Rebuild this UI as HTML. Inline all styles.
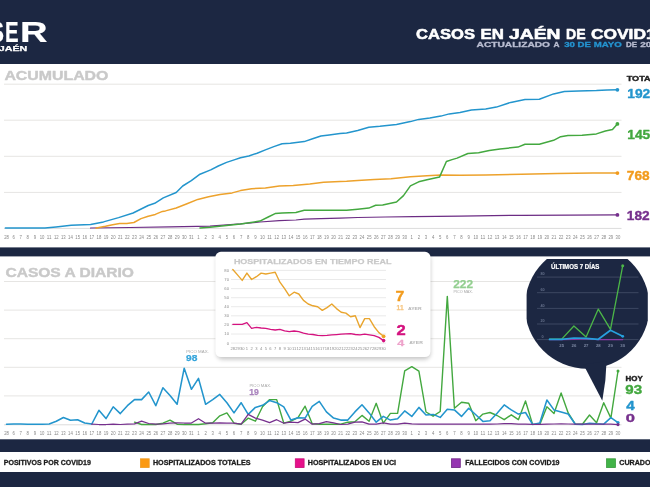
<!DOCTYPE html>
<html lang="es">
<head>
<meta charset="utf-8">
<title>Casos en Jaén de COVID19</title>
<style>
html,body{margin:0;padding:0;background:#ffffff;}
body{width:650px;height:487px;overflow:hidden;}
svg{display:block;font-family:"Liberation Sans",sans-serif;}
text{white-space:pre;}
</style>
</head>
<body>
<svg width="650" height="487" viewBox="0 0 650 487">
<rect x="0" y="0" width="650" height="487" fill="#ffffff"/>
<rect x="0" y="0" width="650" height="64" fill="#1c2742"/>
<rect x="0" y="247.4" width="650" height="9.0" fill="#1c2742"/>
<rect x="0" y="439.3" width="650" height="12.7" fill="#1c2742"/>
<rect x="0" y="472" width="650" height="15" fill="#1c2742"/>
<text x="-10.5" y="42.3" font-size="29.5" fill="#fff" font-weight="700" stroke="#fff" stroke-width="0.2" stroke-linejoin="round" textLength="14.5" lengthAdjust="spacingAndGlyphs">S</text>
<text x="5.0" y="42.3" font-size="29.5" fill="#fff" font-weight="700" stroke="#fff" stroke-width="0.2" stroke-linejoin="round" textLength="13.6" lengthAdjust="spacingAndGlyphs">E</text>
<text x="20.0" y="42.3" font-size="29.5" fill="#fff" font-weight="700" stroke="#fff" stroke-width="0.2" stroke-linejoin="round" textLength="27.6" lengthAdjust="spacingAndGlyphs">R</text>
<text x="-1.2" y="51.3" font-size="6.8" fill="#fff" font-weight="700" stroke="#fff" stroke-width="0.25" stroke-linejoin="round" textLength="28.5" lengthAdjust="spacingAndGlyphs">JAÉN</text>
<text x="416.1" y="38.5" font-size="14.8" fill="#fff" font-weight="700" stroke="#fff" stroke-width="0.55" stroke-linejoin="round" textLength="58.9" lengthAdjust="spacingAndGlyphs">CASOS</text>
<text x="480.6" y="38.5" font-size="14.8" fill="#fff" font-weight="700" stroke="#fff" stroke-width="0.55" stroke-linejoin="round" textLength="23.4" lengthAdjust="spacingAndGlyphs">EN</text>
<text x="509.0" y="38.5" font-size="14.8" fill="#fff" font-weight="700" stroke="#fff" stroke-width="0.55" stroke-linejoin="round" textLength="51.5" lengthAdjust="spacingAndGlyphs">JAÉN</text>
<text x="566.0" y="38.5" font-size="14.8" fill="#fff" font-weight="700" stroke="#fff" stroke-width="0.55" stroke-linejoin="round" textLength="19.6" lengthAdjust="spacingAndGlyphs">DE</text>
<text x="590.9" y="38.5" font-size="14.8" fill="#fff" font-weight="700" stroke="#fff" stroke-width="0.55" stroke-linejoin="round" textLength="74.5" lengthAdjust="spacingAndGlyphs">COVID19</text>
<text x="476.6" y="47.2" font-size="7.3" fill="#b9bdd1" font-weight="700" stroke="#b9bdd1" stroke-width="0.3" stroke-linejoin="round" textLength="73.4" lengthAdjust="spacingAndGlyphs">ACTUALIZADO</text>
<text x="553.6" y="47.2" font-size="7.3" fill="#b9bdd1" font-weight="700" stroke="#b9bdd1" stroke-width="0.3" stroke-linejoin="round" textLength="6.0" lengthAdjust="spacingAndGlyphs">A</text>
<text x="564.2" y="47.2" font-size="7.3" fill="#2493cf" font-weight="700" stroke="#2493cf" stroke-width="0.3" stroke-linejoin="round" textLength="57.5" lengthAdjust="spacingAndGlyphs">30 DE MAYO</text>
<text x="626.0" y="47.2" font-size="7.3" fill="#b9bdd1" font-weight="700" stroke="#b9bdd1" stroke-width="0.3" stroke-linejoin="round" textLength="11.0" lengthAdjust="spacingAndGlyphs">DE</text>
<text x="640.2" y="47.2" font-size="7.3" fill="#b9bdd1" font-weight="700" stroke="#b9bdd1" stroke-width="0.3" stroke-linejoin="round" textLength="22.5" lengthAdjust="spacingAndGlyphs">2020</text>
<text x="4.4" y="80.2" font-size="12.5" fill="#c9c9c9" font-weight="700" stroke="#c9c9c9" stroke-width="0.4" stroke-linejoin="round" textLength="104" lengthAdjust="spacingAndGlyphs">ACUMULADO</text>
<text x="5.4" y="276.5" font-size="12.5" fill="#c9c9c9" font-weight="700" stroke="#c9c9c9" stroke-width="0.4" stroke-linejoin="round" textLength="128.6" lengthAdjust="spacingAndGlyphs">CASOS A DIARIO</text>
<line x1="4" y1="84.2" x2="621.5" y2="84.2" stroke="#e6e5e3" stroke-width="1"/>
<line x1="4" y1="120.2" x2="621.5" y2="120.2" stroke="#e6e5e3" stroke-width="1"/>
<line x1="4" y1="156.3" x2="621.5" y2="156.3" stroke="#e6e5e3" stroke-width="1"/>
<line x1="4" y1="192.4" x2="621.5" y2="192.4" stroke="#e6e5e3" stroke-width="1"/>
<line x1="4" y1="228.4" x2="621.5" y2="228.4" stroke="#dcdcdc" stroke-width="1"/>
<text x="4.2" y="238.8" font-size="5.8" fill="#878787" font-weight="400" textLength="4.7" lengthAdjust="spacingAndGlyphs">28</text>
<text x="12.4" y="238.8" font-size="5.8" fill="#878787" font-weight="400" textLength="2.4" lengthAdjust="spacingAndGlyphs">6</text>
<text x="19.5" y="238.8" font-size="5.8" fill="#878787" font-weight="400" textLength="2.4" lengthAdjust="spacingAndGlyphs">7</text>
<text x="26.6" y="238.8" font-size="5.8" fill="#878787" font-weight="400" textLength="2.4" lengthAdjust="spacingAndGlyphs">8</text>
<text x="33.7" y="238.8" font-size="5.8" fill="#878787" font-weight="400" textLength="2.4" lengthAdjust="spacingAndGlyphs">9</text>
<text x="39.7" y="238.8" font-size="5.8" fill="#878787" font-weight="400" textLength="4.7" lengthAdjust="spacingAndGlyphs">10</text>
<text x="46.8" y="238.8" font-size="5.8" fill="#878787" font-weight="400" textLength="4.7" lengthAdjust="spacingAndGlyphs">11</text>
<text x="53.9" y="238.8" font-size="5.8" fill="#878787" font-weight="400" textLength="4.7" lengthAdjust="spacingAndGlyphs">12</text>
<text x="61.0" y="238.8" font-size="5.8" fill="#878787" font-weight="400" textLength="4.7" lengthAdjust="spacingAndGlyphs">13</text>
<text x="68.1" y="238.8" font-size="5.8" fill="#878787" font-weight="400" textLength="4.7" lengthAdjust="spacingAndGlyphs">14</text>
<text x="75.3" y="238.8" font-size="5.8" fill="#878787" font-weight="400" textLength="4.7" lengthAdjust="spacingAndGlyphs">15</text>
<text x="82.4" y="238.8" font-size="5.8" fill="#878787" font-weight="400" textLength="4.7" lengthAdjust="spacingAndGlyphs">16</text>
<text x="89.5" y="238.8" font-size="5.8" fill="#878787" font-weight="400" textLength="4.7" lengthAdjust="spacingAndGlyphs">17</text>
<text x="96.6" y="238.8" font-size="5.8" fill="#878787" font-weight="400" textLength="4.7" lengthAdjust="spacingAndGlyphs">18</text>
<text x="103.7" y="238.8" font-size="5.8" fill="#878787" font-weight="400" textLength="4.7" lengthAdjust="spacingAndGlyphs">19</text>
<text x="110.8" y="238.8" font-size="5.8" fill="#878787" font-weight="400" textLength="4.7" lengthAdjust="spacingAndGlyphs">20</text>
<text x="117.9" y="238.8" font-size="5.8" fill="#878787" font-weight="400" textLength="4.7" lengthAdjust="spacingAndGlyphs">21</text>
<text x="125.0" y="238.8" font-size="5.8" fill="#878787" font-weight="400" textLength="4.7" lengthAdjust="spacingAndGlyphs">22</text>
<text x="132.1" y="238.8" font-size="5.8" fill="#878787" font-weight="400" textLength="4.7" lengthAdjust="spacingAndGlyphs">23</text>
<text x="139.2" y="238.8" font-size="5.8" fill="#878787" font-weight="400" textLength="4.7" lengthAdjust="spacingAndGlyphs">24</text>
<text x="146.4" y="238.8" font-size="5.8" fill="#878787" font-weight="400" textLength="4.7" lengthAdjust="spacingAndGlyphs">25</text>
<text x="153.5" y="238.8" font-size="5.8" fill="#878787" font-weight="400" textLength="4.7" lengthAdjust="spacingAndGlyphs">26</text>
<text x="160.6" y="238.8" font-size="5.8" fill="#878787" font-weight="400" textLength="4.7" lengthAdjust="spacingAndGlyphs">27</text>
<text x="167.7" y="238.8" font-size="5.8" fill="#878787" font-weight="400" textLength="4.7" lengthAdjust="spacingAndGlyphs">28</text>
<text x="174.8" y="238.8" font-size="5.8" fill="#878787" font-weight="400" textLength="4.7" lengthAdjust="spacingAndGlyphs">29</text>
<text x="181.9" y="238.8" font-size="5.8" fill="#878787" font-weight="400" textLength="4.7" lengthAdjust="spacingAndGlyphs">30</text>
<text x="189.0" y="238.8" font-size="5.8" fill="#878787" font-weight="400" textLength="4.7" lengthAdjust="spacingAndGlyphs">31</text>
<text x="197.3" y="238.8" font-size="5.8" fill="#878787" font-weight="400" textLength="2.4" lengthAdjust="spacingAndGlyphs">1</text>
<text x="204.4" y="238.8" font-size="5.8" fill="#878787" font-weight="400" textLength="2.4" lengthAdjust="spacingAndGlyphs">2</text>
<text x="211.5" y="238.8" font-size="5.8" fill="#878787" font-weight="400" textLength="2.4" lengthAdjust="spacingAndGlyphs">3</text>
<text x="218.6" y="238.8" font-size="5.8" fill="#878787" font-weight="400" textLength="2.4" lengthAdjust="spacingAndGlyphs">4</text>
<text x="225.7" y="238.8" font-size="5.8" fill="#878787" font-weight="400" textLength="2.4" lengthAdjust="spacingAndGlyphs">5</text>
<text x="232.8" y="238.8" font-size="5.8" fill="#878787" font-weight="400" textLength="2.4" lengthAdjust="spacingAndGlyphs">6</text>
<text x="239.9" y="238.8" font-size="5.8" fill="#878787" font-weight="400" textLength="2.4" lengthAdjust="spacingAndGlyphs">7</text>
<text x="247.0" y="238.8" font-size="5.8" fill="#878787" font-weight="400" textLength="2.4" lengthAdjust="spacingAndGlyphs">8</text>
<text x="254.2" y="238.8" font-size="5.8" fill="#878787" font-weight="400" textLength="2.4" lengthAdjust="spacingAndGlyphs">9</text>
<text x="260.1" y="238.8" font-size="5.8" fill="#878787" font-weight="400" textLength="4.7" lengthAdjust="spacingAndGlyphs">10</text>
<text x="267.2" y="238.8" font-size="5.8" fill="#878787" font-weight="400" textLength="4.7" lengthAdjust="spacingAndGlyphs">11</text>
<text x="274.3" y="238.8" font-size="5.8" fill="#878787" font-weight="400" textLength="4.7" lengthAdjust="spacingAndGlyphs">12</text>
<text x="281.4" y="238.8" font-size="5.8" fill="#878787" font-weight="400" textLength="4.7" lengthAdjust="spacingAndGlyphs">13</text>
<text x="288.6" y="238.8" font-size="5.8" fill="#878787" font-weight="400" textLength="4.7" lengthAdjust="spacingAndGlyphs">14</text>
<text x="295.7" y="238.8" font-size="5.8" fill="#878787" font-weight="400" textLength="4.7" lengthAdjust="spacingAndGlyphs">15</text>
<text x="302.8" y="238.8" font-size="5.8" fill="#878787" font-weight="400" textLength="4.7" lengthAdjust="spacingAndGlyphs">16</text>
<text x="309.9" y="238.8" font-size="5.8" fill="#878787" font-weight="400" textLength="4.7" lengthAdjust="spacingAndGlyphs">17</text>
<text x="317.0" y="238.8" font-size="5.8" fill="#878787" font-weight="400" textLength="4.7" lengthAdjust="spacingAndGlyphs">18</text>
<text x="324.1" y="238.8" font-size="5.8" fill="#878787" font-weight="400" textLength="4.7" lengthAdjust="spacingAndGlyphs">19</text>
<text x="331.2" y="238.8" font-size="5.8" fill="#878787" font-weight="400" textLength="4.7" lengthAdjust="spacingAndGlyphs">20</text>
<text x="338.3" y="238.8" font-size="5.8" fill="#878787" font-weight="400" textLength="4.7" lengthAdjust="spacingAndGlyphs">21</text>
<text x="345.4" y="238.8" font-size="5.8" fill="#878787" font-weight="400" textLength="4.7" lengthAdjust="spacingAndGlyphs">22</text>
<text x="352.5" y="238.8" font-size="5.8" fill="#878787" font-weight="400" textLength="4.7" lengthAdjust="spacingAndGlyphs">23</text>
<text x="359.6" y="238.8" font-size="5.8" fill="#878787" font-weight="400" textLength="4.7" lengthAdjust="spacingAndGlyphs">24</text>
<text x="366.8" y="238.8" font-size="5.8" fill="#878787" font-weight="400" textLength="4.7" lengthAdjust="spacingAndGlyphs">25</text>
<text x="373.9" y="238.8" font-size="5.8" fill="#878787" font-weight="400" textLength="4.7" lengthAdjust="spacingAndGlyphs">26</text>
<text x="381.0" y="238.8" font-size="5.8" fill="#878787" font-weight="400" textLength="4.7" lengthAdjust="spacingAndGlyphs">27</text>
<text x="388.1" y="238.8" font-size="5.8" fill="#878787" font-weight="400" textLength="4.7" lengthAdjust="spacingAndGlyphs">28</text>
<text x="395.2" y="238.8" font-size="5.8" fill="#878787" font-weight="400" textLength="4.7" lengthAdjust="spacingAndGlyphs">29</text>
<text x="402.3" y="238.8" font-size="5.8" fill="#878787" font-weight="400" textLength="4.7" lengthAdjust="spacingAndGlyphs">30</text>
<text x="410.6" y="238.8" font-size="5.8" fill="#878787" font-weight="400" textLength="2.4" lengthAdjust="spacingAndGlyphs">1</text>
<text x="417.7" y="238.8" font-size="5.8" fill="#878787" font-weight="400" textLength="2.4" lengthAdjust="spacingAndGlyphs">2</text>
<text x="424.8" y="238.8" font-size="5.8" fill="#878787" font-weight="400" textLength="2.4" lengthAdjust="spacingAndGlyphs">3</text>
<text x="431.9" y="238.8" font-size="5.8" fill="#878787" font-weight="400" textLength="2.4" lengthAdjust="spacingAndGlyphs">4</text>
<text x="439.0" y="238.8" font-size="5.8" fill="#878787" font-weight="400" textLength="2.4" lengthAdjust="spacingAndGlyphs">5</text>
<text x="446.1" y="238.8" font-size="5.8" fill="#878787" font-weight="400" textLength="2.4" lengthAdjust="spacingAndGlyphs">6</text>
<text x="453.2" y="238.8" font-size="5.8" fill="#878787" font-weight="400" textLength="2.4" lengthAdjust="spacingAndGlyphs">7</text>
<text x="460.3" y="238.8" font-size="5.8" fill="#878787" font-weight="400" textLength="2.4" lengthAdjust="spacingAndGlyphs">8</text>
<text x="467.5" y="238.8" font-size="5.8" fill="#878787" font-weight="400" textLength="2.4" lengthAdjust="spacingAndGlyphs">9</text>
<text x="473.4" y="238.8" font-size="5.8" fill="#878787" font-weight="400" textLength="4.7" lengthAdjust="spacingAndGlyphs">10</text>
<text x="480.5" y="238.8" font-size="5.8" fill="#878787" font-weight="400" textLength="4.7" lengthAdjust="spacingAndGlyphs">11</text>
<text x="487.6" y="238.8" font-size="5.8" fill="#878787" font-weight="400" textLength="4.7" lengthAdjust="spacingAndGlyphs">12</text>
<text x="494.7" y="238.8" font-size="5.8" fill="#878787" font-weight="400" textLength="4.7" lengthAdjust="spacingAndGlyphs">13</text>
<text x="501.9" y="238.8" font-size="5.8" fill="#878787" font-weight="400" textLength="4.7" lengthAdjust="spacingAndGlyphs">14</text>
<text x="509.0" y="238.8" font-size="5.8" fill="#878787" font-weight="400" textLength="4.7" lengthAdjust="spacingAndGlyphs">15</text>
<text x="516.1" y="238.8" font-size="5.8" fill="#878787" font-weight="400" textLength="4.7" lengthAdjust="spacingAndGlyphs">16</text>
<text x="523.2" y="238.8" font-size="5.8" fill="#878787" font-weight="400" textLength="4.7" lengthAdjust="spacingAndGlyphs">17</text>
<text x="530.3" y="238.8" font-size="5.8" fill="#878787" font-weight="400" textLength="4.7" lengthAdjust="spacingAndGlyphs">18</text>
<text x="537.4" y="238.8" font-size="5.8" fill="#878787" font-weight="400" textLength="4.7" lengthAdjust="spacingAndGlyphs">19</text>
<text x="544.5" y="238.8" font-size="5.8" fill="#878787" font-weight="400" textLength="4.7" lengthAdjust="spacingAndGlyphs">20</text>
<text x="551.6" y="238.8" font-size="5.8" fill="#878787" font-weight="400" textLength="4.7" lengthAdjust="spacingAndGlyphs">21</text>
<text x="558.7" y="238.8" font-size="5.8" fill="#878787" font-weight="400" textLength="4.7" lengthAdjust="spacingAndGlyphs">22</text>
<text x="565.8" y="238.8" font-size="5.8" fill="#878787" font-weight="400" textLength="4.7" lengthAdjust="spacingAndGlyphs">23</text>
<text x="573.0" y="238.8" font-size="5.8" fill="#878787" font-weight="400" textLength="4.7" lengthAdjust="spacingAndGlyphs">24</text>
<text x="580.1" y="238.8" font-size="5.8" fill="#878787" font-weight="400" textLength="4.7" lengthAdjust="spacingAndGlyphs">25</text>
<text x="587.2" y="238.8" font-size="5.8" fill="#878787" font-weight="400" textLength="4.7" lengthAdjust="spacingAndGlyphs">26</text>
<text x="594.3" y="238.8" font-size="5.8" fill="#878787" font-weight="400" textLength="4.7" lengthAdjust="spacingAndGlyphs">27</text>
<text x="601.4" y="238.8" font-size="5.8" fill="#878787" font-weight="400" textLength="4.7" lengthAdjust="spacingAndGlyphs">28</text>
<text x="608.5" y="238.8" font-size="5.8" fill="#878787" font-weight="400" textLength="4.7" lengthAdjust="spacingAndGlyphs">29</text>
<text x="615.6" y="238.8" font-size="5.8" fill="#878787" font-weight="400" textLength="4.7" lengthAdjust="spacingAndGlyphs">30</text>
<polyline points="90.5,228.0 130.0,227.5 170.0,226.8 210.0,226.1 240.5,223.9 259.9,222.0 279.3,220.6 295.9,220.0 304.2,219.2 320.9,218.6 340.0,218.1 357.7,217.5 385.4,217.0 413.2,216.7 460.0,216.2 521.4,215.3 617.4,214.9" fill="none" stroke="#6c2c84" stroke-width="1.25" stroke-linejoin="round" stroke-linecap="round"/>
<polyline points="96.0,228.2 99.0,227.6 105.5,226.3 112.6,224.7 119.7,223.6 126.8,223.4 133.9,222.5 141.0,218.6 148.2,216.2 155.3,214.4 162.4,211.4 165.5,210.9 176.2,208.0 187.0,203.7 197.8,199.4 208.6,196.8 220.0,194.5 232.2,192.9 240.5,190.6 251.6,188.7 265.4,187.9 279.3,185.9 293.2,185.4 309.8,184.0 323.6,182.3 340.0,181.4 346.6,181.2 357.7,180.4 374.3,179.6 391.0,178.7 410.4,176.8 427.0,175.7 440.9,175.1 460.0,175.3 485.7,174.9 521.4,174.2 557.1,173.5 592.9,173.1 617.4,173.1" fill="none" stroke="#eda22c" stroke-width="1.5" stroke-linejoin="round" stroke-linecap="round"/>
<polyline points="200.0,228.0 210.0,227.2 240.5,223.9 259.9,221.1 268.2,217.0 275.1,213.6 282.1,213.1 295.9,212.5 304.2,210.3 320.9,210.3 346.6,210.3 357.7,209.2 368.8,208.1 375.7,205.3 382.7,205.0 396.5,202.0 403.5,195.6 410.4,185.9 418.7,181.8 427.0,179.8 439.5,177.1 446.4,161.5 452.0,159.6 457.1,158.1 467.9,153.5 478.6,152.8 489.3,150.6 500.0,148.9 517.9,147.1 525.0,144.2 539.3,144.2 553.6,140.3 560.7,136.7 567.9,135.6 582.1,135.3 596.4,133.9 605.4,131.0 612.5,129.6 617.4,123.9" fill="none" stroke="#43a83f" stroke-width="1.5" stroke-linejoin="round" stroke-linecap="round"/>
<polyline points="5.4,228.0 45.0,227.9 56.0,226.9 71.2,225.2 90.6,224.5 103.5,221.9 118.6,217.6 133.1,213.0 148.2,205.5 154.7,203.3 163.3,197.9 176.2,192.5 182.7,186.0 191.3,180.7 200.0,174.2 210.7,169.9 218.3,166.0 226.6,162.4 234.9,159.6 240.5,157.7 248.8,156.0 257.1,153.2 265.4,149.9 273.8,146.6 282.1,143.8 290.4,143.2 304.2,141.6 312.6,138.8 320.9,136.0 329.2,134.9 340.0,133.6 346.6,133.1 357.7,130.5 368.8,127.2 379.9,126.3 396.5,124.4 410.4,121.6 418.7,119.4 429.8,118.0 440.9,116.1 449.2,113.9 460.0,112.5 471.4,109.9 485.7,108.9 496.4,107.1 510.7,102.4 525.0,99.6 539.3,99.2 553.6,93.9 564.3,91.4 578.6,91.0 596.4,90.6 607.1,89.9 617.4,89.8" fill="none" stroke="#2395cd" stroke-width="1.5" stroke-linejoin="round" stroke-linecap="round"/>
<circle cx="617.4" cy="214.9" r="1.9" fill="#76308d"/>
<circle cx="617.4" cy="173.1" r="1.9" fill="#f29b1d"/>
<circle cx="617.4" cy="123.9" r="1.9" fill="#43a83f"/>
<circle cx="617.4" cy="89.8" r="1.9" fill="#2395cd"/>
<text x="626.7" y="80.9" font-size="7.5" fill="#222" font-weight="700" stroke="#222" stroke-width="0.4" stroke-linejoin="round" textLength="29.5" lengthAdjust="spacingAndGlyphs">TOTAL</text>
<text x="627.3" y="98.0" font-size="13.3" fill="#2395cd" font-weight="700" stroke="#2395cd" stroke-width="0.4" stroke-linejoin="round" textLength="30.6" lengthAdjust="spacingAndGlyphs">1920</text>
<text x="627.3" y="138.5" font-size="13.3" fill="#43a83f" font-weight="700" stroke="#43a83f" stroke-width="0.4" stroke-linejoin="round" textLength="30.6" lengthAdjust="spacingAndGlyphs">1450</text>
<text x="626.8" y="179.5" font-size="13.3" fill="#f29b1d" font-weight="700" stroke="#f29b1d" stroke-width="0.4" stroke-linejoin="round" textLength="22.8" lengthAdjust="spacingAndGlyphs">768</text>
<text x="626.8" y="219.6" font-size="13.3" fill="#76308d" font-weight="700" stroke="#76308d" stroke-width="0.4" stroke-linejoin="round" textLength="22.8" lengthAdjust="spacingAndGlyphs">182</text>
<line x1="4" y1="281.5" x2="621.5" y2="281.5" stroke="#e6e5e3" stroke-width="1"/>
<line x1="4" y1="310.1" x2="621.5" y2="310.1" stroke="#e6e5e3" stroke-width="1"/>
<line x1="4" y1="338.7" x2="621.5" y2="338.7" stroke="#e6e5e3" stroke-width="1"/>
<line x1="4" y1="367.3" x2="621.5" y2="367.3" stroke="#e6e5e3" stroke-width="1"/>
<line x1="4" y1="395.9" x2="621.5" y2="395.9" stroke="#e6e5e3" stroke-width="1"/>
<line x1="4" y1="424.8" x2="621.5" y2="424.8" stroke="#dcdcdc" stroke-width="1"/>
<text x="4.2" y="435.0" font-size="5.8" fill="#878787" font-weight="400" textLength="4.7" lengthAdjust="spacingAndGlyphs">28</text>
<text x="12.4" y="435.0" font-size="5.8" fill="#878787" font-weight="400" textLength="2.4" lengthAdjust="spacingAndGlyphs">6</text>
<text x="19.5" y="435.0" font-size="5.8" fill="#878787" font-weight="400" textLength="2.4" lengthAdjust="spacingAndGlyphs">7</text>
<text x="26.6" y="435.0" font-size="5.8" fill="#878787" font-weight="400" textLength="2.4" lengthAdjust="spacingAndGlyphs">8</text>
<text x="33.7" y="435.0" font-size="5.8" fill="#878787" font-weight="400" textLength="2.4" lengthAdjust="spacingAndGlyphs">9</text>
<text x="39.7" y="435.0" font-size="5.8" fill="#878787" font-weight="400" textLength="4.7" lengthAdjust="spacingAndGlyphs">10</text>
<text x="46.8" y="435.0" font-size="5.8" fill="#878787" font-weight="400" textLength="4.7" lengthAdjust="spacingAndGlyphs">11</text>
<text x="53.9" y="435.0" font-size="5.8" fill="#878787" font-weight="400" textLength="4.7" lengthAdjust="spacingAndGlyphs">12</text>
<text x="61.0" y="435.0" font-size="5.8" fill="#878787" font-weight="400" textLength="4.7" lengthAdjust="spacingAndGlyphs">13</text>
<text x="68.1" y="435.0" font-size="5.8" fill="#878787" font-weight="400" textLength="4.7" lengthAdjust="spacingAndGlyphs">14</text>
<text x="75.3" y="435.0" font-size="5.8" fill="#878787" font-weight="400" textLength="4.7" lengthAdjust="spacingAndGlyphs">15</text>
<text x="82.4" y="435.0" font-size="5.8" fill="#878787" font-weight="400" textLength="4.7" lengthAdjust="spacingAndGlyphs">16</text>
<text x="89.5" y="435.0" font-size="5.8" fill="#878787" font-weight="400" textLength="4.7" lengthAdjust="spacingAndGlyphs">17</text>
<text x="96.6" y="435.0" font-size="5.8" fill="#878787" font-weight="400" textLength="4.7" lengthAdjust="spacingAndGlyphs">18</text>
<text x="103.7" y="435.0" font-size="5.8" fill="#878787" font-weight="400" textLength="4.7" lengthAdjust="spacingAndGlyphs">19</text>
<text x="110.8" y="435.0" font-size="5.8" fill="#878787" font-weight="400" textLength="4.7" lengthAdjust="spacingAndGlyphs">20</text>
<text x="117.9" y="435.0" font-size="5.8" fill="#878787" font-weight="400" textLength="4.7" lengthAdjust="spacingAndGlyphs">21</text>
<text x="125.0" y="435.0" font-size="5.8" fill="#878787" font-weight="400" textLength="4.7" lengthAdjust="spacingAndGlyphs">22</text>
<text x="132.1" y="435.0" font-size="5.8" fill="#878787" font-weight="400" textLength="4.7" lengthAdjust="spacingAndGlyphs">23</text>
<text x="139.2" y="435.0" font-size="5.8" fill="#878787" font-weight="400" textLength="4.7" lengthAdjust="spacingAndGlyphs">24</text>
<text x="146.4" y="435.0" font-size="5.8" fill="#878787" font-weight="400" textLength="4.7" lengthAdjust="spacingAndGlyphs">25</text>
<text x="153.5" y="435.0" font-size="5.8" fill="#878787" font-weight="400" textLength="4.7" lengthAdjust="spacingAndGlyphs">26</text>
<text x="160.6" y="435.0" font-size="5.8" fill="#878787" font-weight="400" textLength="4.7" lengthAdjust="spacingAndGlyphs">27</text>
<text x="167.7" y="435.0" font-size="5.8" fill="#878787" font-weight="400" textLength="4.7" lengthAdjust="spacingAndGlyphs">28</text>
<text x="174.8" y="435.0" font-size="5.8" fill="#878787" font-weight="400" textLength="4.7" lengthAdjust="spacingAndGlyphs">29</text>
<text x="181.9" y="435.0" font-size="5.8" fill="#878787" font-weight="400" textLength="4.7" lengthAdjust="spacingAndGlyphs">30</text>
<text x="189.0" y="435.0" font-size="5.8" fill="#878787" font-weight="400" textLength="4.7" lengthAdjust="spacingAndGlyphs">31</text>
<text x="197.3" y="435.0" font-size="5.8" fill="#878787" font-weight="400" textLength="2.4" lengthAdjust="spacingAndGlyphs">1</text>
<text x="204.4" y="435.0" font-size="5.8" fill="#878787" font-weight="400" textLength="2.4" lengthAdjust="spacingAndGlyphs">2</text>
<text x="211.5" y="435.0" font-size="5.8" fill="#878787" font-weight="400" textLength="2.4" lengthAdjust="spacingAndGlyphs">3</text>
<text x="218.6" y="435.0" font-size="5.8" fill="#878787" font-weight="400" textLength="2.4" lengthAdjust="spacingAndGlyphs">4</text>
<text x="225.7" y="435.0" font-size="5.8" fill="#878787" font-weight="400" textLength="2.4" lengthAdjust="spacingAndGlyphs">5</text>
<text x="232.8" y="435.0" font-size="5.8" fill="#878787" font-weight="400" textLength="2.4" lengthAdjust="spacingAndGlyphs">6</text>
<text x="239.9" y="435.0" font-size="5.8" fill="#878787" font-weight="400" textLength="2.4" lengthAdjust="spacingAndGlyphs">7</text>
<text x="247.0" y="435.0" font-size="5.8" fill="#878787" font-weight="400" textLength="2.4" lengthAdjust="spacingAndGlyphs">8</text>
<text x="254.2" y="435.0" font-size="5.8" fill="#878787" font-weight="400" textLength="2.4" lengthAdjust="spacingAndGlyphs">9</text>
<text x="260.1" y="435.0" font-size="5.8" fill="#878787" font-weight="400" textLength="4.7" lengthAdjust="spacingAndGlyphs">10</text>
<text x="267.2" y="435.0" font-size="5.8" fill="#878787" font-weight="400" textLength="4.7" lengthAdjust="spacingAndGlyphs">11</text>
<text x="274.3" y="435.0" font-size="5.8" fill="#878787" font-weight="400" textLength="4.7" lengthAdjust="spacingAndGlyphs">12</text>
<text x="281.4" y="435.0" font-size="5.8" fill="#878787" font-weight="400" textLength="4.7" lengthAdjust="spacingAndGlyphs">13</text>
<text x="288.6" y="435.0" font-size="5.8" fill="#878787" font-weight="400" textLength="4.7" lengthAdjust="spacingAndGlyphs">14</text>
<text x="295.7" y="435.0" font-size="5.8" fill="#878787" font-weight="400" textLength="4.7" lengthAdjust="spacingAndGlyphs">15</text>
<text x="302.8" y="435.0" font-size="5.8" fill="#878787" font-weight="400" textLength="4.7" lengthAdjust="spacingAndGlyphs">16</text>
<text x="309.9" y="435.0" font-size="5.8" fill="#878787" font-weight="400" textLength="4.7" lengthAdjust="spacingAndGlyphs">17</text>
<text x="317.0" y="435.0" font-size="5.8" fill="#878787" font-weight="400" textLength="4.7" lengthAdjust="spacingAndGlyphs">18</text>
<text x="324.1" y="435.0" font-size="5.8" fill="#878787" font-weight="400" textLength="4.7" lengthAdjust="spacingAndGlyphs">19</text>
<text x="331.2" y="435.0" font-size="5.8" fill="#878787" font-weight="400" textLength="4.7" lengthAdjust="spacingAndGlyphs">20</text>
<text x="338.3" y="435.0" font-size="5.8" fill="#878787" font-weight="400" textLength="4.7" lengthAdjust="spacingAndGlyphs">21</text>
<text x="345.4" y="435.0" font-size="5.8" fill="#878787" font-weight="400" textLength="4.7" lengthAdjust="spacingAndGlyphs">22</text>
<text x="352.5" y="435.0" font-size="5.8" fill="#878787" font-weight="400" textLength="4.7" lengthAdjust="spacingAndGlyphs">23</text>
<text x="359.6" y="435.0" font-size="5.8" fill="#878787" font-weight="400" textLength="4.7" lengthAdjust="spacingAndGlyphs">24</text>
<text x="366.8" y="435.0" font-size="5.8" fill="#878787" font-weight="400" textLength="4.7" lengthAdjust="spacingAndGlyphs">25</text>
<text x="373.9" y="435.0" font-size="5.8" fill="#878787" font-weight="400" textLength="4.7" lengthAdjust="spacingAndGlyphs">26</text>
<text x="381.0" y="435.0" font-size="5.8" fill="#878787" font-weight="400" textLength="4.7" lengthAdjust="spacingAndGlyphs">27</text>
<text x="388.1" y="435.0" font-size="5.8" fill="#878787" font-weight="400" textLength="4.7" lengthAdjust="spacingAndGlyphs">28</text>
<text x="395.2" y="435.0" font-size="5.8" fill="#878787" font-weight="400" textLength="4.7" lengthAdjust="spacingAndGlyphs">29</text>
<text x="402.3" y="435.0" font-size="5.8" fill="#878787" font-weight="400" textLength="4.7" lengthAdjust="spacingAndGlyphs">30</text>
<text x="410.6" y="435.0" font-size="5.8" fill="#878787" font-weight="400" textLength="2.4" lengthAdjust="spacingAndGlyphs">1</text>
<text x="417.7" y="435.0" font-size="5.8" fill="#878787" font-weight="400" textLength="2.4" lengthAdjust="spacingAndGlyphs">2</text>
<text x="424.8" y="435.0" font-size="5.8" fill="#878787" font-weight="400" textLength="2.4" lengthAdjust="spacingAndGlyphs">3</text>
<text x="431.9" y="435.0" font-size="5.8" fill="#878787" font-weight="400" textLength="2.4" lengthAdjust="spacingAndGlyphs">4</text>
<text x="439.0" y="435.0" font-size="5.8" fill="#878787" font-weight="400" textLength="2.4" lengthAdjust="spacingAndGlyphs">5</text>
<text x="446.1" y="435.0" font-size="5.8" fill="#878787" font-weight="400" textLength="2.4" lengthAdjust="spacingAndGlyphs">6</text>
<text x="453.2" y="435.0" font-size="5.8" fill="#878787" font-weight="400" textLength="2.4" lengthAdjust="spacingAndGlyphs">7</text>
<text x="460.3" y="435.0" font-size="5.8" fill="#878787" font-weight="400" textLength="2.4" lengthAdjust="spacingAndGlyphs">8</text>
<text x="467.5" y="435.0" font-size="5.8" fill="#878787" font-weight="400" textLength="2.4" lengthAdjust="spacingAndGlyphs">9</text>
<text x="473.4" y="435.0" font-size="5.8" fill="#878787" font-weight="400" textLength="4.7" lengthAdjust="spacingAndGlyphs">10</text>
<text x="480.5" y="435.0" font-size="5.8" fill="#878787" font-weight="400" textLength="4.7" lengthAdjust="spacingAndGlyphs">11</text>
<text x="487.6" y="435.0" font-size="5.8" fill="#878787" font-weight="400" textLength="4.7" lengthAdjust="spacingAndGlyphs">12</text>
<text x="494.7" y="435.0" font-size="5.8" fill="#878787" font-weight="400" textLength="4.7" lengthAdjust="spacingAndGlyphs">13</text>
<text x="501.9" y="435.0" font-size="5.8" fill="#878787" font-weight="400" textLength="4.7" lengthAdjust="spacingAndGlyphs">14</text>
<text x="509.0" y="435.0" font-size="5.8" fill="#878787" font-weight="400" textLength="4.7" lengthAdjust="spacingAndGlyphs">15</text>
<text x="516.1" y="435.0" font-size="5.8" fill="#878787" font-weight="400" textLength="4.7" lengthAdjust="spacingAndGlyphs">16</text>
<text x="523.2" y="435.0" font-size="5.8" fill="#878787" font-weight="400" textLength="4.7" lengthAdjust="spacingAndGlyphs">17</text>
<text x="530.3" y="435.0" font-size="5.8" fill="#878787" font-weight="400" textLength="4.7" lengthAdjust="spacingAndGlyphs">18</text>
<text x="537.4" y="435.0" font-size="5.8" fill="#878787" font-weight="400" textLength="4.7" lengthAdjust="spacingAndGlyphs">19</text>
<text x="544.5" y="435.0" font-size="5.8" fill="#878787" font-weight="400" textLength="4.7" lengthAdjust="spacingAndGlyphs">20</text>
<text x="551.6" y="435.0" font-size="5.8" fill="#878787" font-weight="400" textLength="4.7" lengthAdjust="spacingAndGlyphs">21</text>
<text x="558.7" y="435.0" font-size="5.8" fill="#878787" font-weight="400" textLength="4.7" lengthAdjust="spacingAndGlyphs">22</text>
<text x="565.8" y="435.0" font-size="5.8" fill="#878787" font-weight="400" textLength="4.7" lengthAdjust="spacingAndGlyphs">23</text>
<text x="573.0" y="435.0" font-size="5.8" fill="#878787" font-weight="400" textLength="4.7" lengthAdjust="spacingAndGlyphs">24</text>
<text x="580.1" y="435.0" font-size="5.8" fill="#878787" font-weight="400" textLength="4.7" lengthAdjust="spacingAndGlyphs">25</text>
<text x="587.2" y="435.0" font-size="5.8" fill="#878787" font-weight="400" textLength="4.7" lengthAdjust="spacingAndGlyphs">26</text>
<text x="594.3" y="435.0" font-size="5.8" fill="#878787" font-weight="400" textLength="4.7" lengthAdjust="spacingAndGlyphs">27</text>
<text x="601.4" y="435.0" font-size="5.8" fill="#878787" font-weight="400" textLength="4.7" lengthAdjust="spacingAndGlyphs">28</text>
<text x="608.5" y="435.0" font-size="5.8" fill="#878787" font-weight="400" textLength="4.7" lengthAdjust="spacingAndGlyphs">29</text>
<text x="615.6" y="435.0" font-size="5.8" fill="#878787" font-weight="400" textLength="4.7" lengthAdjust="spacingAndGlyphs">30</text>
<polyline points="134.5,422.2 141.6,424.5 148.7,424.5 155.8,424.5 162.9,423.2 170.0,420.1 177.1,424.2 184.2,424.5 191.4,424.5 198.5,424.5 205.6,423.8 212.7,422.7 219.8,415.8 226.9,412.9 234.0,423.2 241.1,424.2 248.2,418.1 255.4,421.2 262.5,406.8 269.6,399.6 276.7,399.6 283.8,423.2 290.9,421.2 298.0,417.7 305.1,406.2 312.2,423.8 319.3,424.2 326.4,424.2 333.6,424.2 340.7,424.2 347.8,422.2 354.9,421.8 362.0,415.4 369.1,421.2 376.2,403.3 383.3,423.2 390.4,413.4 397.6,413.4 404.7,370.8 411.8,366.7 418.9,371.2 426.0,412.0 433.1,416.2 440.2,411.5 447.3,296.4 454.4,408.2 461.5,402.3 468.7,403.3 475.8,420.7 482.9,414.1 490.0,412.5 497.1,415.5 504.2,419.7 511.3,414.8 518.4,419.7 525.5,401.0 532.6,424.4 539.8,424.4 546.9,406.8 554.0,413.4 561.1,393.0 568.2,412.9 575.3,424.2 582.4,424.2 589.5,415.0 596.6,422.8 603.7,402.7 610.9,418.1 618.0,371.0" fill="none" stroke="#43a83f" stroke-width="1.4" stroke-linejoin="round" stroke-linecap="round"/>
<polyline points="6.5,424.3 13.6,424.0 20.7,424.1 27.8,424.3 34.9,424.3 42.1,424.3 49.2,424.0 56.3,421.2 63.4,417.5 70.5,420.3 77.6,419.7 84.7,423.0 91.8,424.0 98.9,410.3 106.0,418.6 113.2,406.8 120.3,413.6 127.4,405.7 134.5,399.6 141.6,399.6 148.7,392.0 155.8,405.7 162.9,387.7 170.0,395.5 177.1,404.3 184.2,368.2 191.4,389.3 198.5,378.4 205.6,404.3 212.7,399.6 219.8,394.4 226.9,402.7 234.0,412.9 241.1,402.7 248.2,414.4 255.4,407.4 262.5,405.3 269.6,400.6 276.7,402.7 283.8,406.8 290.9,420.1 298.0,417.7 305.1,418.1 312.2,406.4 319.3,401.4 326.4,411.9 333.6,418.1 340.7,420.1 347.8,420.1 354.9,411.9 362.0,404.7 369.1,412.9 376.2,422.2 383.3,416.4 390.4,420.1 397.6,418.7 404.7,410.9 411.8,416.4 418.9,407.4 426.0,415.0 433.1,414.4 440.2,417.4 447.3,409.2 454.4,409.9 461.5,416.4 468.7,408.2 475.8,414.8 482.9,421.4 490.0,420.7 497.1,413.2 504.2,404.9 511.3,409.9 518.4,414.1 525.5,412.5 532.6,424.4 539.8,423.1 546.9,400.0 554.0,409.9 561.1,411.9 568.2,414.0 575.3,424.2 582.4,424.5 589.5,423.2 596.6,423.8 603.7,424.2 610.9,417.7 618.0,422.6" fill="none" stroke="#2395cd" stroke-width="1.55" stroke-linejoin="round" stroke-linecap="round"/>
<polyline points="91.8,424.2 98.9,424.5 106.0,424.5 113.2,424.2 120.3,424.5 127.4,424.2 134.5,423.8 141.6,421.2 148.7,423.5 155.8,424.2 162.9,423.8 170.0,423.2 177.1,422.8 184.2,423.0 191.4,423.0 198.5,418.7 205.6,423.2 212.7,423.2 219.8,422.8 226.9,423.2 234.0,423.2 241.1,424.2 248.2,414.4 255.4,418.1 262.5,420.1 269.6,422.6 276.7,419.7 283.8,423.2 290.9,422.2 298.0,422.6 305.1,419.1 312.2,424.2 319.3,423.6 326.4,421.6 333.6,422.8 340.7,424.5 347.8,424.2 354.9,422.2 362.0,421.8 369.1,424.2 376.2,424.2 383.3,422.8 390.4,424.2 397.6,424.2 404.7,423.2 411.8,423.8 418.9,424.2 426.0,424.2 433.1,424.0 440.2,424.2 447.3,424.0 454.4,424.2 461.5,424.2 468.7,424.0 475.8,424.2 482.9,424.2 490.0,424.2 497.1,424.0 504.2,423.6 511.3,423.6 518.4,424.2 525.5,424.2 532.6,424.4 539.8,424.4 546.9,424.2 554.0,424.0 561.1,423.8 568.2,424.0 575.3,424.2 582.4,424.2 589.5,424.0 596.6,424.2 603.7,424.2 610.9,424.2 618.0,424.6" fill="none" stroke="#76308d" stroke-width="1.25" stroke-linejoin="round" stroke-linecap="round"/>
<circle cx="618.0" cy="371.0" r="1.5" fill="#43a83f"/>
<circle cx="618.0" cy="422.6" r="1.6" fill="#2395cd"/>
<circle cx="618.0" cy="424.6" r="1.6" fill="#76308d"/>
<text x="186.2" y="353.4" font-size="3.6" fill="#a8a8a8" font-weight="400" textLength="22.6" lengthAdjust="spacingAndGlyphs">PICO MAX.</text>
<text x="186.0" y="360.9" font-size="8.8" fill="#36a5db" font-weight="700" stroke="#36a5db" stroke-width="0.25" stroke-linejoin="round" textLength="11.4" lengthAdjust="spacingAndGlyphs">98</text>
<text x="249.4" y="386.8" font-size="3.6" fill="#a8a8a8" font-weight="400" textLength="21.8" lengthAdjust="spacingAndGlyphs">PICO MAX.</text>
<text x="249.2" y="395.1" font-size="8.8" fill="#a983bd" font-weight="700" stroke="#a983bd" stroke-width="0.25" stroke-linejoin="round" textLength="9.6" lengthAdjust="spacingAndGlyphs">19</text>
<text x="453.2" y="288.2" font-size="11.6" fill="#93cf90" font-weight="700" stroke="#93cf90" stroke-width="0.25" stroke-linejoin="round" textLength="19.8" lengthAdjust="spacingAndGlyphs">222</text>
<text x="453.4" y="293.2" font-size="3.6" fill="#a8a8a8" font-weight="400" textLength="19.5" lengthAdjust="spacingAndGlyphs">PICO MAX.</text>
<text x="625.5" y="381.2" font-size="6.6" fill="#222" font-weight="700" stroke="#222" stroke-width="0.4" stroke-linejoin="round" textLength="17.2" lengthAdjust="spacingAndGlyphs">HOY</text>
<text x="625.3" y="393.5" font-size="12.9" fill="#43a83f" font-weight="700" stroke="#43a83f" stroke-width="0.4" stroke-linejoin="round" textLength="16.8" lengthAdjust="spacingAndGlyphs">93</text>
<text x="626.2" y="410.0" font-size="12.2" fill="#2395cd" font-weight="700" stroke="#2395cd" stroke-width="0.4" stroke-linejoin="round" textLength="8.4" lengthAdjust="spacingAndGlyphs">4</text>
<text x="625.8" y="422.3" font-size="11.6" fill="#76308d" font-weight="700" stroke="#76308d" stroke-width="0.4" stroke-linejoin="round" textLength="9.2" lengthAdjust="spacingAndGlyphs">0</text>
<defs><filter id="sh" x="-10%" y="-10%" width="120%" height="125%"><feGaussianBlur stdDeviation="2.2"/></filter><clipPath id="bub"><rect x="526.6" y="259" width="121.2" height="150"/></clipPath></defs>
<rect x="216.5" y="254" width="214" height="105.5" rx="6" fill="#000" opacity="0.22" filter="url(#sh)"/>
<rect x="215.4" y="251.8" width="215.1" height="105.3" rx="5.5" fill="#ffffff"/>
<text x="233.9" y="263.5" font-size="7.8" fill="#c9c9c9" font-weight="700" stroke="#c9c9c9" stroke-width="0.25" stroke-linejoin="round" textLength="157.5" lengthAdjust="spacingAndGlyphs">HOSPITALIZADOS EN TIEMPO REAL</text>
<line x1="231" y1="343.1" x2="386" y2="343.1" stroke="#e4e4e4" stroke-width="0.8"/>
<text x="229" y="344.5" font-size="4.2" fill="#8e8e8e" font-weight="400" text-anchor="end">0</text>
<line x1="231" y1="334.0" x2="386" y2="334.0" stroke="#e4e4e4" stroke-width="0.8"/>
<text x="229" y="335.4" font-size="4.2" fill="#8e8e8e" font-weight="400" text-anchor="end">10</text>
<line x1="231" y1="324.9" x2="386" y2="324.9" stroke="#e4e4e4" stroke-width="0.8"/>
<text x="229" y="326.3" font-size="4.2" fill="#8e8e8e" font-weight="400" text-anchor="end">20</text>
<line x1="231" y1="315.8" x2="386" y2="315.8" stroke="#e4e4e4" stroke-width="0.8"/>
<text x="229" y="317.2" font-size="4.2" fill="#8e8e8e" font-weight="400" text-anchor="end">30</text>
<line x1="231" y1="306.7" x2="386" y2="306.7" stroke="#e4e4e4" stroke-width="0.8"/>
<text x="229" y="308.1" font-size="4.2" fill="#8e8e8e" font-weight="400" text-anchor="end">40</text>
<line x1="231" y1="297.7" x2="386" y2="297.7" stroke="#e4e4e4" stroke-width="0.8"/>
<text x="229" y="299.1" font-size="4.2" fill="#8e8e8e" font-weight="400" text-anchor="end">50</text>
<line x1="231" y1="288.6" x2="386" y2="288.6" stroke="#e4e4e4" stroke-width="0.8"/>
<text x="229" y="290.0" font-size="4.2" fill="#8e8e8e" font-weight="400" text-anchor="end">60</text>
<line x1="231" y1="279.5" x2="386" y2="279.5" stroke="#e4e4e4" stroke-width="0.8"/>
<text x="229" y="280.9" font-size="4.2" fill="#8e8e8e" font-weight="400" text-anchor="end">70</text>
<line x1="231" y1="270.4" x2="386" y2="270.4" stroke="#e4e4e4" stroke-width="0.8"/>
<text x="229" y="271.8" font-size="4.2" fill="#8e8e8e" font-weight="400" text-anchor="end">80</text>
<text x="232.8" y="350.0" font-size="4.1" fill="#8e8e8e" font-weight="400" text-anchor="middle">28</text>
<text x="237.5" y="350.0" font-size="4.1" fill="#8e8e8e" font-weight="400" text-anchor="middle">29</text>
<text x="242.2" y="350.0" font-size="4.1" fill="#8e8e8e" font-weight="400" text-anchor="middle">30</text>
<text x="246.9" y="350.0" font-size="4.1" fill="#8e8e8e" font-weight="400" text-anchor="middle">1</text>
<text x="251.6" y="350.0" font-size="4.1" fill="#8e8e8e" font-weight="400" text-anchor="middle">2</text>
<text x="256.4" y="350.0" font-size="4.1" fill="#8e8e8e" font-weight="400" text-anchor="middle">3</text>
<text x="261.1" y="350.0" font-size="4.1" fill="#8e8e8e" font-weight="400" text-anchor="middle">4</text>
<text x="265.8" y="350.0" font-size="4.1" fill="#8e8e8e" font-weight="400" text-anchor="middle">5</text>
<text x="270.5" y="350.0" font-size="4.1" fill="#8e8e8e" font-weight="400" text-anchor="middle">6</text>
<text x="275.2" y="350.0" font-size="4.1" fill="#8e8e8e" font-weight="400" text-anchor="middle">7</text>
<text x="279.9" y="350.0" font-size="4.1" fill="#8e8e8e" font-weight="400" text-anchor="middle">8</text>
<text x="284.6" y="350.0" font-size="4.1" fill="#8e8e8e" font-weight="400" text-anchor="middle">9</text>
<text x="289.3" y="350.0" font-size="4.1" fill="#8e8e8e" font-weight="400" text-anchor="middle">10</text>
<text x="294.1" y="350.0" font-size="4.1" fill="#8e8e8e" font-weight="400" text-anchor="middle">11</text>
<text x="298.8" y="350.0" font-size="4.1" fill="#8e8e8e" font-weight="400" text-anchor="middle">12</text>
<text x="303.5" y="350.0" font-size="4.1" fill="#8e8e8e" font-weight="400" text-anchor="middle">13</text>
<text x="308.2" y="350.0" font-size="4.1" fill="#8e8e8e" font-weight="400" text-anchor="middle">14</text>
<text x="312.9" y="350.0" font-size="4.1" fill="#8e8e8e" font-weight="400" text-anchor="middle">15</text>
<text x="317.6" y="350.0" font-size="4.1" fill="#8e8e8e" font-weight="400" text-anchor="middle">16</text>
<text x="322.3" y="350.0" font-size="4.1" fill="#8e8e8e" font-weight="400" text-anchor="middle">17</text>
<text x="327.0" y="350.0" font-size="4.1" fill="#8e8e8e" font-weight="400" text-anchor="middle">18</text>
<text x="331.8" y="350.0" font-size="4.1" fill="#8e8e8e" font-weight="400" text-anchor="middle">19</text>
<text x="336.5" y="350.0" font-size="4.1" fill="#8e8e8e" font-weight="400" text-anchor="middle">20</text>
<text x="341.2" y="350.0" font-size="4.1" fill="#8e8e8e" font-weight="400" text-anchor="middle">21</text>
<text x="345.9" y="350.0" font-size="4.1" fill="#8e8e8e" font-weight="400" text-anchor="middle">22</text>
<text x="350.6" y="350.0" font-size="4.1" fill="#8e8e8e" font-weight="400" text-anchor="middle">23</text>
<text x="355.3" y="350.0" font-size="4.1" fill="#8e8e8e" font-weight="400" text-anchor="middle">24</text>
<text x="360.0" y="350.0" font-size="4.1" fill="#8e8e8e" font-weight="400" text-anchor="middle">25</text>
<text x="364.7" y="350.0" font-size="4.1" fill="#8e8e8e" font-weight="400" text-anchor="middle">26</text>
<text x="369.4" y="350.0" font-size="4.1" fill="#8e8e8e" font-weight="400" text-anchor="middle">27</text>
<text x="374.2" y="350.0" font-size="4.1" fill="#8e8e8e" font-weight="400" text-anchor="middle">28</text>
<text x="378.9" y="350.0" font-size="4.1" fill="#8e8e8e" font-weight="400" text-anchor="middle">29</text>
<text x="383.6" y="350.0" font-size="4.1" fill="#8e8e8e" font-weight="400" text-anchor="middle">30</text>
<polyline points="232.8,269.5 237.5,274.9 242.2,280.4 246.9,273.1 251.6,279.5 256.4,276.7 261.1,273.1 265.8,274.0 270.5,273.1 275.2,272.2 279.9,282.2 284.6,288.6 289.3,295.8 294.1,292.2 298.8,294.0 303.5,300.4 308.2,304.0 312.9,305.8 317.6,306.7 322.3,310.4 327.0,307.6 331.8,304.0 336.5,308.6 341.2,312.2 345.9,313.1 350.6,316.7 355.3,315.8 360.0,327.6 364.7,318.6 369.4,318.6 374.2,326.7 378.9,332.6 383.6,336.3" fill="none" stroke="#e9a52e" stroke-width="1.4" stroke-linejoin="round" stroke-linecap="round"/>
<polyline points="232.8,324.3 237.5,324.3 242.2,324.3 246.9,322.6 251.6,328.3 256.4,327.3 261.1,328.0 265.8,328.3 270.5,329.3 275.2,330.0 279.9,329.3 284.6,330.8 289.3,331.7 294.1,331.0 298.8,331.7 303.5,333.2 308.2,334.2 312.9,334.5 317.6,335.4 322.3,335.7 327.0,335.4 331.8,334.9 336.5,334.6 341.2,334.2 345.9,333.8 350.6,333.7 355.3,334.5 360.0,334.9 364.7,334.2 369.4,334.9 374.2,335.7 378.9,337.4 383.6,340.6" fill="none" stroke="#d4127f" stroke-width="1.3" stroke-linejoin="round" stroke-linecap="round"/>
<circle cx="383.6" cy="336.3" r="1.9" fill="#efa225"/>
<circle cx="383.6" cy="340.6" r="1.8" fill="#d4127f"/>
<text x="395.6" y="301.2" font-size="14.8" fill="#f29b1d" font-weight="700" stroke="#f29b1d" stroke-width="0.4" stroke-linejoin="round" textLength="8.8" lengthAdjust="spacingAndGlyphs">7</text>
<text x="396.6" y="309.7" font-size="7.4" fill="#f6c682" font-weight="700" stroke="#f6c682" stroke-width="0.25" stroke-linejoin="round" textLength="7.0" lengthAdjust="spacingAndGlyphs">11</text>
<text x="408.0" y="309.6" font-size="4.1" fill="#b4b4b4" font-weight="700" textLength="13.6" lengthAdjust="spacingAndGlyphs">AYER</text>
<text x="396.5" y="335.1" font-size="14.2" fill="#d4127f" font-weight="700" stroke="#d4127f" stroke-width="0.4" stroke-linejoin="round" textLength="9.2" lengthAdjust="spacingAndGlyphs">2</text>
<text x="397.3" y="345.5" font-size="9.6" fill="#eea3cb" font-weight="700" stroke="#eea3cb" stroke-width="0.3" stroke-linejoin="round" textLength="7.0" lengthAdjust="spacingAndGlyphs">4</text>
<text x="409.2" y="344.4" font-size="4.1" fill="#b4b4b4" font-weight="700" textLength="13.6" lengthAdjust="spacingAndGlyphs">AYER</text>
<g clip-path="url(#bub)"><circle cx="587.2" cy="306.5" r="62.3" fill="#1c2742"/></g>
<polygon points="583.4,364.5 606.6,361 605.4,380 602.3,400.8" fill="#1c2742"/>
<text x="551.0" y="269.4" font-size="7.0" fill="#fff" font-weight="700" stroke="#fff" stroke-width="0.2" stroke-linejoin="round" textLength="48.4" lengthAdjust="spacingAndGlyphs">ÚLTIMOS 7 DÍAS</text>
<line x1="537" y1="339.6" x2="638.5" y2="339.6" stroke="#4b5670" stroke-width="0.7"/>
<text x="542.6" y="337.7" font-size="3.8" fill="#66718c" font-weight="700" text-anchor="middle">0</text>
<line x1="537" y1="324.0" x2="638.5" y2="324.0" stroke="#4b5670" stroke-width="0.7"/>
<text x="542.6" y="322.1" font-size="3.8" fill="#66718c" font-weight="700" text-anchor="middle">20</text>
<line x1="537" y1="308.4" x2="638.5" y2="308.4" stroke="#4b5670" stroke-width="0.7"/>
<text x="542.6" y="306.5" font-size="3.8" fill="#66718c" font-weight="700" text-anchor="middle">40</text>
<line x1="537" y1="292.7" x2="638.5" y2="292.7" stroke="#4b5670" stroke-width="0.7"/>
<text x="542.6" y="290.8" font-size="3.8" fill="#66718c" font-weight="700" text-anchor="middle">60</text>
<line x1="537" y1="277.1" x2="638.5" y2="277.1" stroke="#4b5670" stroke-width="0.7"/>
<text x="542.6" y="275.2" font-size="3.8" fill="#66718c" font-weight="700" text-anchor="middle">80</text>
<text x="561.7" y="347.0" font-size="4.3" fill="#7d88a3" font-weight="700" text-anchor="middle">25</text>
<text x="573.9" y="347.0" font-size="4.3" fill="#7d88a3" font-weight="700" text-anchor="middle">26</text>
<text x="586.1" y="347.0" font-size="4.3" fill="#7d88a3" font-weight="700" text-anchor="middle">27</text>
<text x="598.3" y="347.0" font-size="4.3" fill="#7d88a3" font-weight="700" text-anchor="middle">28</text>
<text x="610.5" y="347.0" font-size="4.3" fill="#7d88a3" font-weight="700" text-anchor="middle">29</text>
<text x="622.7" y="347.0" font-size="4.3" fill="#7d88a3" font-weight="700" text-anchor="middle">30</text>
<polyline points="549.5,339.1 561.7,339.1 573.9,326.0 586.1,336.9 598.3,309.1 610.5,329.4 622.7,265.8" fill="none" stroke="#4cb748" stroke-width="1.3" stroke-linejoin="round" stroke-linecap="round"/>
<polyline points="549.5,339.6 561.7,339.6 573.9,339.4 586.1,339.0 598.3,339.6 610.5,339.6 622.7,339.6" fill="none" stroke="#8a3aa3" stroke-width="1.2" stroke-linejoin="round" stroke-linecap="round"/>
<polyline points="549.5,339.4 561.7,339.4 573.9,338.0 586.1,338.4 598.3,339.3 610.5,330.2 622.7,336.3" fill="none" stroke="#27a0de" stroke-width="1.7" stroke-linejoin="round" stroke-linecap="round"/>
<circle cx="622.7" cy="265.8" r="1.5" fill="#4cb748"/>
<circle cx="622.7" cy="336.3" r="1.4" fill="#27a0de"/>
<text x="3.8" y="465.1" font-size="6.35" fill="#1c1c1c" font-weight="700" stroke="#1c1c1c" stroke-width="0.28" stroke-linejoin="round" textLength="87.0" lengthAdjust="spacingAndGlyphs">POSITIVOS POR COVID19</text>
<rect x="140.4" y="458.8" width="8.8" height="8.8" fill="#fb9912" stroke="#ee9c25" stroke-width="0.8"/>
<text x="152.9" y="465.1" font-size="6.35" fill="#1c1c1c" font-weight="700" stroke="#1c1c1c" stroke-width="0.28" stroke-linejoin="round" textLength="97.6" lengthAdjust="spacingAndGlyphs">HOSPITALIZADOS TOTALES</text>
<rect x="295.3" y="458.8" width="8.8" height="8.8" fill="#e6108a" stroke="#c90d78" stroke-width="0.8"/>
<text x="307.8" y="465.1" font-size="6.35" fill="#1c1c1c" font-weight="700" stroke="#1c1c1c" stroke-width="0.28" stroke-linejoin="round" textLength="88.2" lengthAdjust="spacingAndGlyphs">HOSPITALIZADOS EN UCI</text>
<rect x="451.5" y="458.8" width="8.8" height="8.8" fill="#9636b2" stroke="#6f2687" stroke-width="0.8"/>
<text x="465.2" y="465.1" font-size="6.35" fill="#1c1c1c" font-weight="700" stroke="#1c1c1c" stroke-width="0.28" stroke-linejoin="round" textLength="94.3" lengthAdjust="spacingAndGlyphs">FALLECIDOS CON COVID19</text>
<rect x="606.6" y="458.8" width="8.8" height="8.8" fill="#42b348" stroke="#379a3c" stroke-width="0.8"/>
<text x="619.3" y="465.1" font-size="6.35" fill="#1c1c1c" font-weight="700" stroke="#1c1c1c" stroke-width="0.28" stroke-linejoin="round" textLength="36.0" lengthAdjust="spacingAndGlyphs">CURADOS</text>
</svg>
</body>
</html>
